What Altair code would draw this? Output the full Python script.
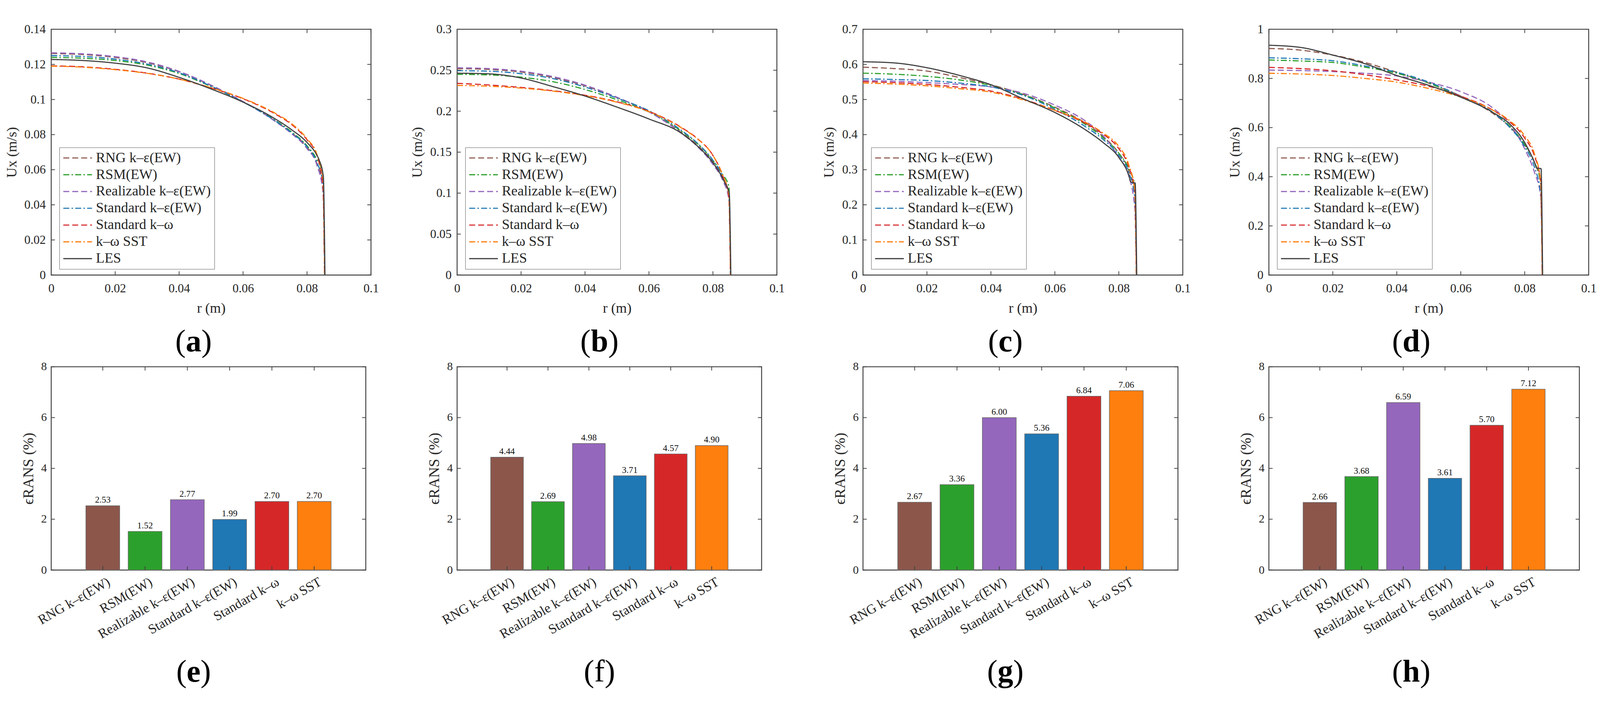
import altair as alt
import pandas as pd

SERIF = "Liberation Serif, Times New Roman, DejaVu Serif, serif"
TXT = "#262626"
FRAME = "#404040"

# ---------------- data ----------------
MODELS = ["RNG k–ε(EW)", "RSM(EW)", "Realizable k–ε(EW)", "Standard k–ε(EW)",
          "Standard k–ω", "k–ω SST", "LES"]
LINE_COLORS = ["#8c564b", "#2ca02c", "#9467bd", "#1f77b4", "#d62728", "#ff7f0e", "#404040"]
LINE_DASH = [[16, 8], [16, 6, 4, 6], [16, 8], [16, 6, 4, 6], [16, 8], [16, 6, 4, 6], [1, 0]]

R_RANS = [0, 0.01, 0.02, 0.03, 0.04, 0.05, 0.06, 0.07, 0.075, 0.08, 0.083, 0.085, 0.0855]
R_LES = [0, 0.01, 0.02, 0.03, 0.04, 0.05, 0.06, 0.07, 0.075, 0.08, 0.083, 0.0838, 0.0851, 0.0856]

UX_A = {
    "RNG k–ε(EW)":        [0.1262, 0.1256, 0.1240, 0.1210, 0.1158, 0.1080, 0.0988, 0.0878, 0.0812, 0.0728, 0.0640, 0.0500, 0],
    "RSM(EW)":            [0.1240, 0.1235, 0.1222, 0.1196, 0.1148, 0.1074, 0.0986, 0.0882, 0.0818, 0.0736, 0.0660, 0.0570, 0],
    "Realizable k–ε(EW)": [0.1266, 0.1260, 0.1244, 0.1214, 0.1160, 0.1082, 0.0988, 0.0876, 0.0808, 0.0720, 0.0630, 0.0470, 0],
    "Standard k–ε(EW)":   [0.1250, 0.1245, 0.1230, 0.1202, 0.1152, 0.1076, 0.0986, 0.0879, 0.0813, 0.0730, 0.0645, 0.0520, 0],
    "Standard k–ω":       [0.1192, 0.1186, 0.1172, 0.1150, 0.1116, 0.1066, 0.1004, 0.0918, 0.0860, 0.0770, 0.0685, 0.0500, 0],
    "k–ω SST":            [0.1190, 0.1184, 0.1170, 0.1149, 0.1116, 0.1067, 0.1006, 0.0922, 0.0865, 0.0776, 0.0692, 0.0550, 0],
    "LES":                [0.1228, 0.1222, 0.1207, 0.1180, 0.1126, 0.1060, 0.0985, 0.0890, 0.0830, 0.0755, 0.0685, 0.0655, 0.0560, 0],
}
UX_B = {
    "RNG k–ε(EW)":        [0.2520, 0.2510, 0.2478, 0.2412, 0.2310, 0.2165, 0.1995, 0.1745, 0.1590, 0.1380, 0.1200, 0.0960, 0],
    "RSM(EW)":            [0.2450, 0.2443, 0.2415, 0.2360, 0.2265, 0.2140, 0.1990, 0.1760, 0.1610, 0.1400, 0.1230, 0.1080, 0],
    "Realizable k–ε(EW)": [0.2530, 0.2520, 0.2488, 0.2422, 0.2318, 0.2170, 0.1992, 0.1735, 0.1575, 0.1350, 0.1160, 0.0920, 0],
    "Standard k–ε(EW)":   [0.2495, 0.2488, 0.2458, 0.2398, 0.2295, 0.2160, 0.2005, 0.1770, 0.1615, 0.1400, 0.1210, 0.0980, 0],
    "Standard k–ω":       [0.2340, 0.2320, 0.2290, 0.2250, 0.2195, 0.2115, 0.1998, 0.1805, 0.1670, 0.1460, 0.1220, 0.0950, 0],
    "k–ω SST":            [0.2315, 0.2305, 0.2282, 0.2245, 0.2190, 0.2110, 0.1994, 0.1800, 0.1667, 0.1460, 0.1225, 0.0980, 0],
    "LES":                [0.2464, 0.2456, 0.2405, 0.2300, 0.2185, 0.2050, 0.1905, 0.1735, 0.1580, 0.1370, 0.1185, 0.1120, 0.1000, 0],
}
UX_C = {
    "RNG k–ε(EW)":        [0.592, 0.588, 0.581, 0.563, 0.542, 0.515, 0.478, 0.430, 0.395, 0.347, 0.300, 0.230, 0],
    "RSM(EW)":            [0.575, 0.572, 0.566, 0.556, 0.540, 0.514, 0.476, 0.426, 0.392, 0.347, 0.305, 0.255, 0],
    "Realizable k–ε(EW)": [0.554, 0.552, 0.548, 0.543, 0.536, 0.518, 0.484, 0.436, 0.398, 0.335, 0.285, 0.190, 0],
    "Standard k–ε(EW)":   [0.559, 0.557, 0.554, 0.547, 0.536, 0.512, 0.472, 0.420, 0.387, 0.341, 0.295, 0.220, 0],
    "Standard k–ω":       [0.551, 0.548, 0.543, 0.535, 0.524, 0.501, 0.469, 0.430, 0.402, 0.360, 0.311, 0.240, 0],
    "k–ω SST":            [0.547, 0.544, 0.539, 0.531, 0.521, 0.499, 0.469, 0.433, 0.405, 0.366, 0.317, 0.240, 0],
    "LES":                [0.6075, 0.604, 0.5905, 0.569, 0.542, 0.5024, 0.463, 0.411, 0.378, 0.335, 0.287, 0.265, 0.262, 0],
}
UX_D = {
    "RNG k–ε(EW)":        [0.922, 0.915, 0.895, 0.865, 0.825, 0.781, 0.728, 0.658, 0.607, 0.530, 0.460, 0.370, 0],
    "RSM(EW)":            [0.875, 0.871, 0.865, 0.846, 0.821, 0.781, 0.724, 0.662, 0.610, 0.530, 0.460, 0.380, 0],
    "Realizable k–ε(EW)": [0.834, 0.832, 0.828, 0.821, 0.810, 0.785, 0.746, 0.680, 0.620, 0.513, 0.420, 0.320, 0],
    "Standard k–ε(EW)":   [0.884, 0.880, 0.872, 0.851, 0.825, 0.785, 0.728, 0.662, 0.605, 0.522, 0.440, 0.330, 0],
    "Standard k–ω":       [0.845, 0.840, 0.831, 0.815, 0.794, 0.768, 0.728, 0.671, 0.627, 0.557, 0.486, 0.380, 0],
    "k–ω SST":            [0.821, 0.818, 0.812, 0.800, 0.785, 0.759, 0.724, 0.671, 0.631, 0.566, 0.495, 0.380, 0],
    "LES":                [0.935, 0.926, 0.895, 0.860, 0.812, 0.772, 0.724, 0.662, 0.618, 0.539, 0.460, 0.435, 0.433, 0],
}

X_TICKS = [0, 0.02, 0.04, 0.06, 0.08, 0.1]
Y_TICKS_A = [0, 0.02, 0.04, 0.06, 0.08, 0.1, 0.12, 0.14]
Y_TICKS_B = [0, 0.05, 0.1, 0.15, 0.2, 0.25, 0.3]
Y_TICKS_C = [0, 0.1, 0.2, 0.3, 0.4, 0.5, 0.6, 0.7]
Y_TICKS_D = [0, 0.2, 0.4, 0.6, 0.8, 1]

CATS = MODELS[:6]
BAR_COLORS = ["#8c564b", "#2ca02c", "#9467bd", "#1f77b4", "#d62728", "#ff7f0e"]
ERR_E = [2.53, 1.52, 2.77, 1.99, 2.70, 2.70]
ERR_F = [4.44, 2.69, 4.98, 3.71, 4.57, 4.90]
ERR_G = [2.67, 3.36, 6.00, 5.36, 6.84, 7.06]
ERR_H = [2.66, 3.68, 6.59, 3.61, 5.70, 7.12]
BAR_TICKS = [0, 2, 4, 6, 8]

# ---------------- helpers ----------------
LETTER_W = {"a": 42, "b": 47, "c": 37, "d": 47, "e": 37, "f": 28, "g": 42, "h": 47}
TOP_W, TOP_H = 858, 659
BOT_H = 545
BOT_W = [844, 817, 845, 833]


def panel_label(letter, y, bold=True):
    lw = LETTER_W[letter]
    cx = 382
    base = alt.Chart(pd.DataFrame({"t": [letter]}))
    common = dict(font=SERIF, fontSize=84, baseline="alphabetic", color="black")
    lp = base.mark_text(align="right", **common).encode(
        x=alt.value(cx - lw / 2), y=alt.value(y), text=alt.value("("))
    mid = base.mark_text(align="center", fontWeight="bold" if bold else "normal", **common).encode(
        x=alt.value(cx), y=alt.value(y), text="t:N")
    rp = base.mark_text(align="left", **common).encode(
        x=alt.value(cx + lw / 2), y=alt.value(y), text=alt.value(")"))
    return [lp, mid, rp]


def rule_style():
    return dict(color=FRAME, strokeWidth=2)


def line_panel(vals, ymax, yticks, letter, title_x):
    W, H = TOP_W, TOP_H
    rows = []
    for m in MODELS:
        rr = R_LES if m == "LES" else R_RANS
        for r, u in zip(rr, vals[m]):
            rows.append({"r": r, "u": u, "model": m})
    df = pd.DataFrame(rows)

    xax = alt.Axis(values=X_TICKS, format="~g", title="r (m)", labelFont=SERIF, labelFontSize=33,
                   labelColor=TXT, labelPadding=20, labelFlush=False, labelOverlap=False,
                   ticks=False, domain=False, grid=False, titleFont=SERIF, titleFontSize=38,
                   titleFontWeight="normal", titleColor=TXT, titleY=89, titleBaseline="middle")
    yax = alt.Axis(values=yticks, format="~g", title="Ux (m/s)", labelFont=SERIF, labelFontSize=33,
                   labelColor=TXT, labelPadding=15, labelFlush=False, labelOverlap=False,
                   labelBaseline="middle", ticks=False, domain=False, grid=False,
                   titleFont=SERIF, titleFontSize=38, titleFontWeight="normal", titleColor=TXT,
                   titleX=title_x, titleY=H / 2, titleBaseline="middle")
    X = alt.X("r:Q", scale=alt.Scale(domain=[0, 0.1], nice=False, zero=False), axis=xax)
    Y = alt.Y("u:Q", scale=alt.Scale(domain=[0, ymax], nice=False, zero=False), axis=yax)
    leg = alt.Legend(title=None, orient="none", legendX=22, legendY=317, labelFont=SERIF,
                     labelFontSize=38, labelColor=TXT, labelLimit=1000, symbolType="stroke",
                     symbolSize=5929, symbolStrokeWidth=3, clipHeight=38, rowPadding=7,
                     padding=9, labelOffset=9, strokeColor="#555555", fillColor="white")
    color = alt.Color("model:N", scale=alt.Scale(domain=MODELS, range=LINE_COLORS), legend=leg)
    dash = alt.StrokeDash("model:N", scale=alt.Scale(domain=MODELS, range=LINE_DASH), legend=leg)

    rans = alt.Chart(df[df.model != "LES"]).mark_line(strokeWidth=3, interpolate="monotone").encode(
        x=X, y=Y, color=color, strokeDash=dash)
    les = alt.Chart(df[df.model == "LES"]).mark_line(strokeWidth=3, interpolate="monotone").encode(
        x=X, y=Y, color=color, strokeDash=dash)

    xt = pd.DataFrame({"r": X_TICKS})
    yt = pd.DataFrame({"u": yticks})
    tb = alt.Chart(xt).mark_rule(**rule_style()).encode(x=X, y=alt.value(H), y2=alt.value(H - 10))
    tt = alt.Chart(xt).mark_rule(**rule_style()).encode(x=X, y=alt.value(0), y2=alt.value(10))
    tl = alt.Chart(yt).mark_rule(**rule_style()).encode(y=Y, x=alt.value(0), x2=alt.value(10))
    tr = alt.Chart(yt).mark_rule(**rule_style()).encode(y=Y, x=alt.value(W - 10), x2=alt.value(W))

    return alt.layer(rans, les, tb, tt, tl, tr, *panel_label(letter, 864)).properties(width=W, height=H)


def bar_panel(vals, letter, W, bold=True):
    H = BOT_H
    df = pd.DataFrame({"model": CATS, "err": vals})
    xax = alt.Axis(title=None, labelAngle=-30, labelAlign="right", labelBaseline="top",
                   labelFont=SERIF, labelFontSize=36, labelColor=TXT, labelPadding=14,
                   labelOffset=8, labelLimit=1000, ticks=False, domain=False, grid=False)
    yax = alt.Axis(values=BAR_TICKS, title="ϵRANS (%)", labelFont=SERIF, labelFontSize=31,
                   labelColor=TXT, labelPadding=12, labelFlush=False, labelBaseline="middle",
                   ticks=False, domain=False, grid=False, titleFont=SERIF, titleFontSize=40,
                   titleFontWeight="normal", titleColor=TXT, titleX=-61, titleY=H / 2,
                   titleBaseline="middle")
    X = alt.X("model:N", sort=CATS, scale=alt.Scale(domain=CATS, paddingInner=0.2, paddingOuter=0.82),
              axis=xax)
    Y = alt.Y("err:Q", scale=alt.Scale(domain=[0, 8], nice=False, zero=True), axis=yax)
    bars = alt.Chart(df).mark_bar(stroke="#6a6a6a", strokeWidth=1.5).encode(
        x=X, y=Y, color=alt.Color("model:N", scale=alt.Scale(domain=CATS, range=BAR_COLORS), legend=None))
    txt = alt.Chart(df).mark_text(baseline="bottom", dy=-3, font=SERIF, fontSize=24, color="#111111").encode(
        x=X, y=Y, text=alt.Text("err:Q", format=".2f"))

    ct = pd.DataFrame({"model": CATS})
    yt = pd.DataFrame({"err": BAR_TICKS})
    tb = alt.Chart(ct).mark_rule(**rule_style()).encode(x=X, y=alt.value(H), y2=alt.value(H - 10))
    tt = alt.Chart(ct).mark_rule(**rule_style()).encode(x=X, y=alt.value(0), y2=alt.value(10))
    tl = alt.Chart(yt).mark_rule(**rule_style()).encode(y=Y, x=alt.value(0), x2=alt.value(10))
    tr = alt.Chart(yt).mark_rule(**rule_style()).encode(y=Y, x=alt.value(W - 10), x2=alt.value(W))

    return alt.layer(bars, txt, tb, tt, tl, tr, *panel_label(letter, 844, bold)).properties(width=W, height=H)


panels = [
    line_panel(UX_A, 0.14, Y_TICKS_A, "a", -105),
    line_panel(UX_B, 0.3, Y_TICKS_B, "b", -106),
    line_panel(UX_C, 0.7, Y_TICKS_C, "c", -90),
    line_panel(UX_D, 1.0, Y_TICKS_D, "d", -90),
    bar_panel(ERR_E, "e", BOT_W[0]),
    bar_panel(ERR_F, "f", BOT_W[1], bold=False),
    bar_panel(ERR_G, "g", BOT_W[2]),
    bar_panel(ERR_H, "h", BOT_W[3]),
]

chart = alt.concat(
    *panels, columns=4, spacing={"row": 246, "column": 231}, bounds="flush", align="each"
).resolve_scale(
    color="independent", strokeDash="independent"
).properties(
    padding={"left": 3, "top": 9, "right": 0, "bottom": 0}, background="white"
).configure_view(stroke=FRAME, strokeWidth=2.5)

chart.save("out.html", embed_options={"renderer": "svg", "actions": False})
